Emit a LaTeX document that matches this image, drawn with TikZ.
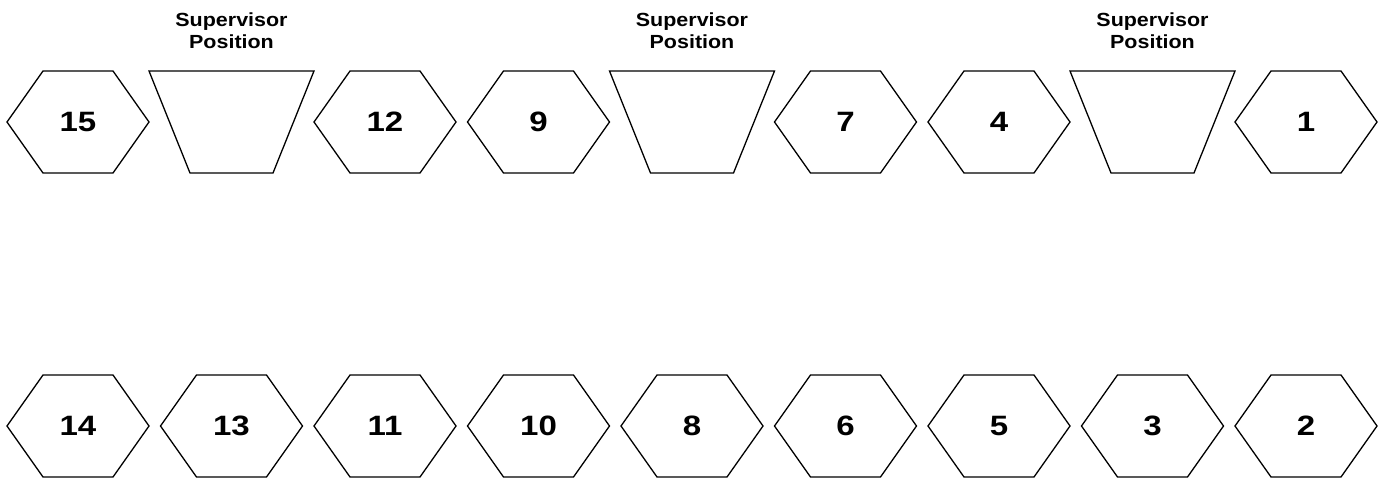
\documentclass[tikz,border=0pt]{standalone}
\usepackage{fontspec}
\setmainfont{Liberation Sans}
\newfontfamily\numfont[FakeStretch=1.18]{Liberation Sans}
\newfontfamily\supfont[FakeStretch=1.13]{Liberation Sans}
\begin{document}
\begin{tikzpicture}[x=1pt,y=1pt]
\tikzset{
  shp/.style={draw=black, line width=1.3pt, line join=miter},
  num/.style={font=\numfont\fontsize{28}{28}\selectfont\bfseries, inner sep=0pt},
  sup/.style={font=\supfont\fontsize{19}{22}\selectfont\bfseries, align=center, inner sep=0pt}
}
\useasboundingbox (0,0) rectangle (1382,480);
% hexagons
\foreach \lab/\i/\yy in {15/0/358,12/2/358,9/3/358,7/5/358,4/6/358,1/8/358,
                         14/0/54,13/1/54,11/2/54,10/3/54,8/4/54,6/5/54,5/6/54,3/7/54,2/8/54}{
  \pgfmathsetmacro\xx{78+153.5*\i}
  \node[num] (h\lab) at (\xx,\yy) {\lab};
  \draw[shp] (\xx-71,\yy) -- ++(36,51) -- ++(70,0) -- ++(36,-51) -- ++(-36,-51) -- ++(-70,0) -- cycle;
}
% supervisor trapezoids
\foreach \k/\i in {a/1,b/4,c/7}{
  \pgfmathsetmacro\xx{78+153.5*\i}
  \coordinate (t\k) at (\xx,358);
  \draw[shp] (\xx-82.5,409) -- (\xx+82.5,409) -- (\xx+41.5,307) -- (\xx-41.5,307) -- cycle;
  \node[sup] (s\k) at (\xx,449) {Supervisor\\Position};
}
\end{tikzpicture}
\end{document}
